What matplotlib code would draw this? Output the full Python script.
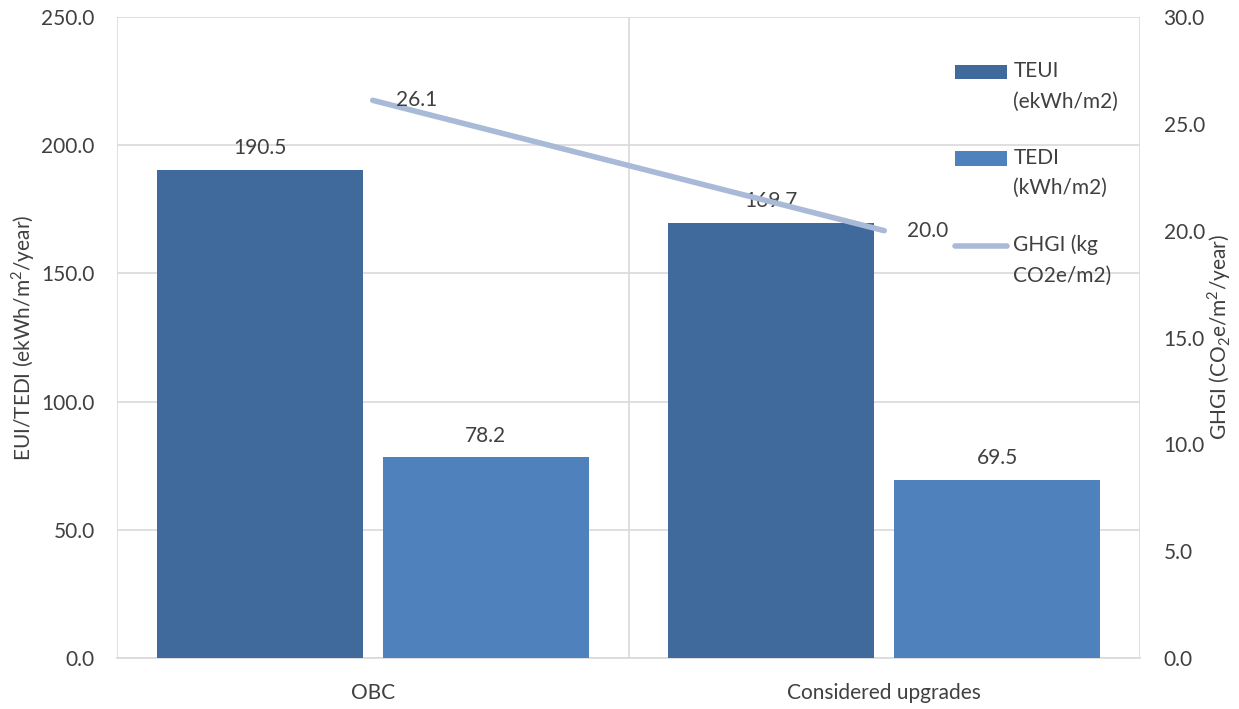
import matplotlib.pyplot as plt
from matplotlib.patches import Rectangle
from matplotlib.container import BarContainer
from matplotlib.legend_handler import HandlerPatch, HandlerLine2D, update_from_first_child
import numpy as np

categories = ["OBC", "Considered upgrades"]
teui = [190.5, 169.7]
tedi = [78.2, 69.5]
ghgi = [26.1, 20.0]

c_teui = "#406A9B"
c_tedi = "#4F81BD"
c_ghgi = "#A9B9D8"
txt = "#404040"

plt.rcParams['font.family'] = ['Lato', 'DejaVu Sans']
plt.rcParams['font.size'] = 15
plt.rcParams['mathtext.fontset'] = 'custom'
plt.rcParams['mathtext.rm'] = 'Lato'

# legend handles sit next to the first line of a two-line label
DY = 11


def shifted_rect(legend, orig_handle, xdescent, ydescent, width, height, fontsize):
    return Rectangle((-xdescent, -ydescent + DY), width, height)


class ShiftedLine(HandlerLine2D):
    def create_artists(self, *args, **kwargs):
        arts = super().create_artists(*args, **kwargs)
        for a in arts:
            a.set_ydata(np.asarray(a.get_ydata()) + DY)
        return arts


fig = plt.figure(figsize=(12.39, 7.09), dpi=100)
ax = fig.add_axes([117 / 1239, 1 - 658 / 709, (1140 - 117) / 1239, (658 - 17) / 709])
ax2 = ax.twinx()

x = np.arange(len(categories))
w = 0.403
off = 0.221
b1 = ax.bar(x - off, teui, w, color=c_teui, label="TEUI\n(ekWh/m2)", zorder=3)
b2 = ax.bar(x + off, tedi, w, color=c_tedi, label="TEDI\n(kWh/m2)", zorder=3)
ln, = ax2.plot(x, ghgi, color=c_ghgi, lw=4, solid_capstyle='round', label="GHGI (kg\nCO2e/m2)", zorder=4)

for rects, vals in [(b1, teui), (b2, tedi)]:
    for r, v in zip(rects, vals):
        ax.text(r.get_x() + r.get_width() / 2, v + 4.5, f"{v:.1f}", ha='center', va='bottom',
                fontsize=15, color=txt, zorder=5)
for xi, v in zip(x, ghgi):
    ax2.text(xi + 0.045, v, f"{v:.1f}", ha='left', va='center', fontsize=15, color=txt, zorder=5)

ax.set_xlim(-0.5, 1.5)
ax.set_ylim(0, 250)
ax.set_yticks(np.arange(0, 251, 50))
ax.set_yticklabels([f"{v:.1f}" for v in np.arange(0, 251, 50)])
ax2.set_ylim(0, 30)
ax2.set_yticks(np.arange(0, 31, 5))
ax2.set_yticklabels([f"{v:.1f}" for v in np.arange(0, 31, 5)])

ax.set_xticks(x)
ax.set_xticklabels(categories)
ax.set_xticks([-0.5, 0.5, 1.5], minor=True)
ax.grid(axis='y', color='#D9D9D9', lw=1.2, zorder=0)
ax.grid(axis='x', which='minor', color='#D9D9D9', lw=1.2, zorder=0)

for a in (ax, ax2):
    for s in a.spines.values():
        s.set_visible(False)
    a.tick_params(length=0, which='both', labelsize=15, colors=txt)
ax.spines['bottom'].set_visible(True)
ax.spines['bottom'].set_color('#D9D9D9')
ax.spines['bottom'].set_linewidth(1.2)
ax.tick_params(axis='x', pad=18)
ax.tick_params(axis='y', pad=16)
ax2.tick_params(axis='y', pad=17)

ax.set_ylabel("EUI/TEDI (ekWh/m$^2$/year)", fontsize=15, color=txt, labelpad=3)
ax2.set_ylabel("GHGI (CO$_2$e/m$^2$/year)", fontsize=15, color=txt, labelpad=0)

leg = ax2.legend([b1, b2, ln], [b1.get_label(), b2.get_label(), ln.get_label()],
                 loc='upper left', bbox_to_anchor=(955 / 1239, 1 - 61 / 709), bbox_transform=fig.transFigure,
                 frameon=False, fontsize=15, labelcolor=txt, handlelength=2.5, handleheight=0.67,
                 labelspacing=1.75, handletextpad=0.3, borderpad=0, borderaxespad=0,
                 handler_map={BarContainer: HandlerPatch(patch_func=shifted_rect,
                                                         update_func=update_from_first_child),
                              type(ln): ShiftedLine()})
for t in leg.get_texts():
    t.set_linespacing(1.65)

fig.savefig("out.png", dpi=100)
